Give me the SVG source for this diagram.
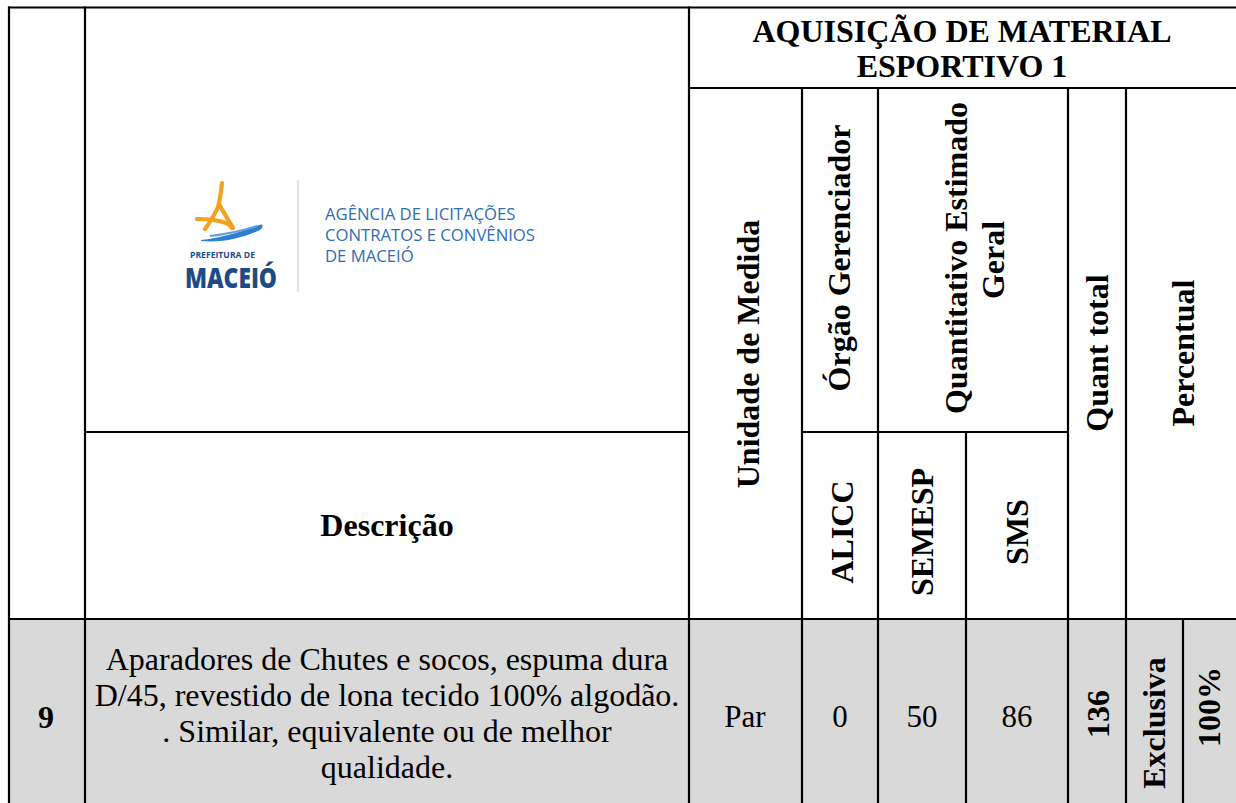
<svg xmlns="http://www.w3.org/2000/svg" width="1236" height="803" viewBox="0 0 1236 803">
<style>
.ln{stroke:#000;stroke-width:2.2;fill:none}
.hb{font-family:"Liberation Serif","Times New Roman",serif;font-weight:bold;font-size:32px;fill:#000;text-anchor:middle}
.tb{font-family:"Liberation Serif","Times New Roman",serif;font-size:31px;fill:#000;text-anchor:middle}
.ds{font-size:32px}
.ag{font-family:"Open Sans","Liberation Sans",sans-serif;font-size:16.7px;fill:#2f6db5}
.or{stroke:#f4a11d;stroke-width:4.2;fill:none;stroke-linecap:round;stroke-linejoin:round}
</style>
<rect x="0" y="0" width="1236" height="803" fill="#fff"/>
<rect id="row-fill" x="9" y="619" width="1227" height="184" fill="#d9d9d9"/>
<g id="grid">
<path class="ln" d="M8 7.5H1236M688 88H1236M85 432H689M801 432H1068M8 619H1236"/>
<path class="ln" d="M9 6.5V803M85 6.5V803M689 6.5V803M802 88V803M878 88V803M966 432V803M1068 88V803M1126 88V803M1183 619V803"/>
</g>
<g id="logo">
<path class="or" d="M222 183 C221 192 220 200 218 207 C214 216 210 222 205 229"/>
<path class="or" d="M219 204 C224 213 229 221 233 228"/>
<path class="or" d="M197 219 C208 219 218 220 226 223 C229 224 231 226 232 228"/>
<path d="M201 240 C220 238 242 232 259 225 C263 223 264 227 260 230 C243 238 222 243 201 241 Z" fill="#2e7dd1"/>
<path d="M210 236 C228 234 244 230 257 226" stroke="#5aa0e6" stroke-width="2.2" fill="none"/>
<text x="190" y="258" font-family="'Open Sans','Liberation Sans',sans-serif" font-weight="bold" font-size="8" fill="#1e4b8a" textLength="65" lengthAdjust="spacingAndGlyphs">PREFEITURA DE</text>
<text x="185" y="288" font-family="'Open Sans','Liberation Sans',sans-serif" font-weight="800" font-size="28" fill="#1d4a85" textLength="92" lengthAdjust="spacingAndGlyphs">MACEIÓ</text>
<line x1="298" y1="180" x2="298" y2="292" stroke="#c8c8c8" stroke-width="1"/>
<text class="ag" x="325" y="220">AGÊNCIA DE LICITAÇÕES</text>
<text class="ag" x="325" y="241">CONTRATOS E CONVÊNIOS</text>
<text class="ag" x="325" y="262">DE MACEIÓ</text>
</g>
<g id="title">
<text class="hb" x="962" y="42">AQUISIÇÃO DE MATERIAL</text>
<text class="hb" x="962" y="77">ESPORTIVO 1</text>
</g>
<g id="h-descricao"><text class="hb" x="387" y="536">Descrição</text></g>
<g id="h-unidade"><text class="hb" transform="translate(759,354) rotate(-90)">Unidade de Medida</text></g>
<g id="h-orgao"><text class="hb" transform="translate(850,258) rotate(-90)">Órgão Gerenciador</text></g>
<g id="h-quant">
<text class="hb" transform="translate(967,258) rotate(-90)">Quantitativo Estimado</text>
<text class="hb" transform="translate(1004,260) rotate(-90)">Geral</text>
</g>
<g id="h-alicc"><text class="hb" transform="translate(853,532) rotate(-90)">ALICC</text></g>
<g id="h-semesp"><text class="hb" transform="translate(933,532) rotate(-90)">SEMESP</text></g>
<g id="h-sms"><text class="hb" transform="translate(1028,532) rotate(-90)">SMS</text></g>
<g id="h-quanttotal"><text class="hb" transform="translate(1108,353) rotate(-90)">Quant total</text></g>
<g id="h-percentual"><text class="hb" transform="translate(1194,353) rotate(-90)">Percentual</text></g>
<g id="row-9">
<text class="hb" x="46" y="728">9</text>
<text class="tb ds" x="387" y="670">Aparadores de Chutes e socos, espuma dura</text>
<text class="tb ds" x="387" y="706">D/45, revestido de lona tecido 100% algodão.</text>
<text class="tb ds" x="387" y="742">. Similar, equivalente ou de melhor</text>
<text class="tb ds" x="387" y="778">qualidade.</text>
<text class="tb" x="745" y="727">Par</text>
<text class="tb" x="840" y="727">0</text>
<text class="tb" x="922" y="727">50</text>
<text class="tb" x="1017" y="727">86</text>
<text class="hb" transform="translate(1109,714) rotate(-90)">136</text>
<text class="hb" transform="translate(1165,723) rotate(-90)">Exclusiva</text>
<text class="hb" transform="translate(1220,707) rotate(-90)">100%</text>
</g>
</svg>
